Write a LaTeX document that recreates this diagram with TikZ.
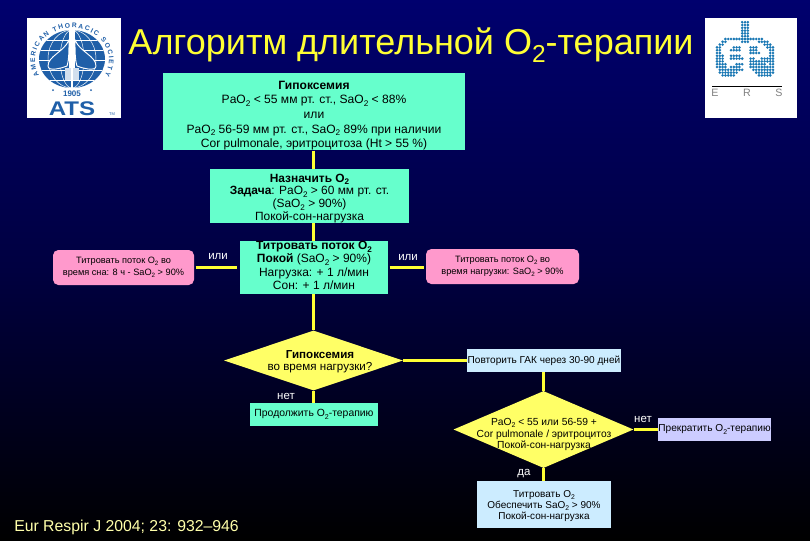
\documentclass[tikz,border=0pt]{standalone}
\usepackage{fontspec}
\setmainfont{Liberation Sans}
\usetikzlibrary{shapes.geometric,decorations.text}
\definecolor{aqua}{HTML}{66FFCC}
\definecolor{pinkbox}{HTML}{FF99CC}
\definecolor{palebox}{HTML}{CCECFF}
\definecolor{lilac}{HTML}{CCCCFF}
\definecolor{diamy}{HTML}{FFFF66}
\definecolor{titley}{HTML}{FFFF33}
\definecolor{linky}{HTML}{FFFF33}
\definecolor{atsblue}{HTML}{1F5FA8}
\definecolor{ersblue}{HTML}{1A78B4}
\newcommand{\osub}[1]{\raisebox{-0.22em}{\scalebox{0.68}{#1}}}
\newcommand{\fs}[2]{\fontsize{#1}{#2}\selectfont}
\newcommand{\pushdn}[1]{\rule{0pt}{#1}}
\tikzset{
  x=0.75pt,y=-0.75pt,
  flowbox/.style={rectangle,fill=aqua,text=black,inner sep=0pt,align=center},
  pinkflow/.style={rectangle,rounded corners=4pt,fill=pinkbox,text=black,inner sep=0pt,align=center,font=\fs{6.9}{8.6}},
  palebx/.style={rectangle,fill=palebox,text=black,inner sep=0pt,align=center},
  stopbx/.style={rectangle,fill=lilac,text=black,inner sep=0pt,align=center},
  diam/.style={diamond,fill=diamy,inner sep=0pt},
  difftext/.style={text=black,inner sep=0pt,align=center},
  link/.style={draw=linky,line width=2.2pt},
  lbl/.style={text=white,inner sep=0pt,font=\fs{8.6}{10}},
}
\begin{document}
\begin{tikzpicture}
\useasboundingbox (0,0) rectangle (810,540);
\shade[shading=axis,top color={rgb,255:red,0;green,0;blue,110},
       bottom color=black,middle color={rgb,255:red,0;green,0;blue,64}] (0,0) rectangle (810,540);

% title and source
\node[text=titley,inner sep=0pt,font=\fs{27}{30}] (title) at (411,45) {Алгоритм длительной O\osub{2}-терапии};
\node[text={rgb,255:red,255;green,255;blue,170},inner sep=0pt,font=\fs{11.85}{14},anchor=west] (src) at (14,527) {Eur Respir J 2004; 23: 932–946};

% ATS logo
\fill[white] (27,18) rectangle (121,118);
\begin{scope}[shift={(72,60)},x=0.75pt,y=0.75pt]
  \fill[atsblue] (0,1) ellipse[x radius=33,y radius=29];
  \begin{scope}
    \clip (0,1) ellipse[x radius=33,y radius=29];
    \foreach \rr in {12,24} \draw[white,line width=0.35pt] (0,1) ellipse[x radius=\rr,y radius=29];
    \foreach \yy in {-20,-10,0,10,20} \draw[white,line width=0.35pt] (-33,\yy) -- (33,\yy);
    \fill[atsblue,draw=white,line width=0.7pt] (-3,20) .. controls (-8,8) and (-24,4) .. (-24,-6) .. controls (-24,-12) and (-10,-8) .. (-5,-6) .. controls (-3,0) and (-3,10) .. cycle;
    \fill[atsblue,draw=white,line width=0.7pt] (3,20) .. controls (8,8) and (24,4) .. (24,-6) .. controls (24,-12) and (10,-8) .. (5,-6) .. controls (3,0) and (3,10) .. cycle;
    \fill[white] (-3,30) rectangle (3,-8);
    \fill[white!80!atsblue] (-7,-8) rectangle (7,-20);
    \fill[white] (-1,-8) rectangle (1,-30);
  \end{scope}
  \path[decorate,decoration={text along path,text align={fit to path},
     text={|\color{atsblue}\bfseries\fs{5}{6}|AMERICAN THORACIC SOCIETY}}]
     ({37*cos(208)},{32*sin(208)}) arc[start angle=208,end angle=-28,x radius=37,y radius=32];
  \fill[atsblue] (-19,-30) circle[radius=1];
  \fill[atsblue] (19,-30) circle[radius=1];
\end{scope}
\node[text=atsblue,inner sep=0pt,font=\bfseries\fs{6}{7}] (year) at (72,94) {1905};
\node[text=atsblue,inner sep=0pt,font=\bfseries\fs{14.8}{16},xscale=1.22] (ats) at (72,108.5) {ATS};
\node[text=atsblue,inner sep=0pt,font=\fs{3}{4}] (tm) at (112,114) {TM};

% ERS logo
\fill[white] (705,18) rectangle (797,118);
\foreach \c in {-1,0,1} \foreach \r in {-6,...,0} \fill[ersblue] ({745+\c*2.8},{39+\r*2.8}) circle[radius=1.45];
\foreach \r/\l in {0/{-7/-1,0/1,2/6},1/{-8/-7,-1/1,5/8},2/{-9/-8,7/9},3/{-10/-9,-4/-2,2/4,8/10},4/{-10/-9,-5/-2,2/4,9/10},5/{-10/-9,2/5,9/10},6/{-10/-8,-5/-2,9/10},7/{-10/-8,-5/-1,2/3,6/10},8/{-10/-8,2/5,6/10},9/{-10/-7,-3/-1,2/7,9/10},10/{-10/-7,-5/-2,2/10},11/{-9/-1,3/10},12/{-9/-3,4/10},13/{-8/-4,5/9}}
  \foreach \a/\b in \l
    \foreach \c in {\a,...,\b}
      \fill[ersblue] ({745+\c*2.8},{39+\r*2.8}) circle[radius=1.45];
\draw[black,line width=0.7pt] (712,86) -- (782,86);
\node[text=gray,inner sep=0pt,font=\fs{8}{9}] (ersE) at (715,93) {E};
\node[text=gray,inner sep=0pt,font=\fs{8}{9}] (ersR) at (747,93) {R};
\node[text=gray,inner sep=0pt,font=\fs{8}{9}] (ersS) at (779,93) {S};

% flow nodes
\node[flowbox,minimum width=302*0.75pt,minimum height=77*0.75pt,font=\fs{9.05}{11}] (box1) at (314,111.5) {\pushdn{12.5pt}\textbf{Гипоксемия}\\PaO\osub{2} < 55 мм рт. ст., SaO\osub{2} < 88\%\\или\\PaO\osub{2} 56-59 мм рт. ст., SaO\osub{2} 89\% при наличии\\Cor pulmonale, эритроцитоза (Ht > 55 \%)};
\node[flowbox,minimum width=199*0.75pt,minimum height=54*0.75pt,font=\fs{8.95}{9.5}] (box2) at (309.5,196) {\pushdn{9.5pt}\textbf{Назначить O\osub{2}}\\\textbf{Задача}: PaO\osub{2} > 60 мм рт. ст.\\(SaO\osub{2} > 90\%)\\Покой-сон-нагрузка};
\node[flowbox,minimum width=148*0.75pt,minimum height=53*0.75pt,font=\fs{9}{10}] (box3) at (314,267.5) {\textbf{Титровать поток O\osub{2}}\\\textbf{Покой} (SaO\osub{2} > 90\%)\\Нагрузка: + 1 л/мин\\Сон: + 1 л/мин\rule[-3.5pt]{0pt}{1pt}};
\node[pinkflow,minimum width=141*0.75pt,minimum height=35*0.75pt] (pinkL) at (123.5,267.5) {Титровать поток O\osub{2} во\\время сна: 8 ч - SaO\osub{2} > 90\%};
\node[pinkflow,minimum width=153*0.75pt,minimum height=35*0.75pt] (pinkR) at (502.5,266.5) {Титровать поток O\osub{2} во\\время нагрузки: SaO\osub{2} > 90\%};
\node[diam,minimum width=179*0.75pt,minimum height=60*0.75pt] (diam1) at (313.5,360.5) {};
\node[difftext,font=\fs{8.7}{9.3}] (diam1t) at (320,362) {\textbf{Гипоксемия}\\во время нагрузки?};
\node[palebx,minimum width=154*0.75pt,minimum height=23*0.75pt,font=\fs{7.55}{10}] (repeatb) at (544,360.5) {Повторить ГАК через 30-90 дней};
\node[flowbox,minimum width=128*0.75pt,minimum height=23*0.75pt,font=\fs{7.8}{10}] (cont) at (314,414.5) {Продолжить O\osub{2}-терапию};
\node[diam,minimum width=180*0.75pt,minimum height=77*0.75pt] (diam2) at (543.5,429.5) {};
\node[difftext,font=\fs{7.7}{8.6}] (diam2t) at (544,434.5) {PaO\osub{2} < 55 или 56-59 +\\Cor pulmonale / эритроцитоз\\Покой-сон-нагрузка};
\node[stopbx,minimum width=113*0.75pt,minimum height=23*0.75pt,font=\fs{7.6}{10}] (stopb) at (714.5,429.5) {Прекратить O\osub{2}-терапию};
\node[palebx,minimum width=134*0.75pt,minimum height=47*0.75pt,font=\fs{7.5}{8.6}] (titr) at (544,504.5) {\pushdn{7.5pt}Титровать O\osub{2}\\Обеспечить SaO\osub{2} > 90\%\\Покой-сон-нагрузка};

% connectors
\draw[link] (box1.south -| diam1) -- (box2.north -| diam1);
\draw[link] (box2.south -| diam1) -- (box3.north -| diam1);
\draw[link] (box3.south -| diam1) -- (diam1.north);
\draw[link,shorten >=2.2pt,shorten <=1pt] (pinkL.east) -- (box3.west);
\draw[link,shorten >=1pt,shorten <=1pt] (box3.east) -- (box3.east -| pinkR.west);
\draw[link] (diam1.east) -- (repeatb.west);
\draw[link] (diam1.south) -- (diam1.south |- cont.north);
\draw[link] (repeatb.south -| diam2) -- (diam2.north);
\draw[link] (diam2.east) -- (stopb.west);
\draw[link] (diam2.south) -- (titr.north -| diam2);

% branch labels
\node[lbl] (orL) at (218,257) {или};
\node[lbl] (orR) at (408,258) {или};
\node[lbl] (no1) at (286,396) {нет};
\node[lbl] (no2) at (643,419) {нет};
\node[lbl] (yes) at (524,474) {да};
\end{tikzpicture}
\end{document}
